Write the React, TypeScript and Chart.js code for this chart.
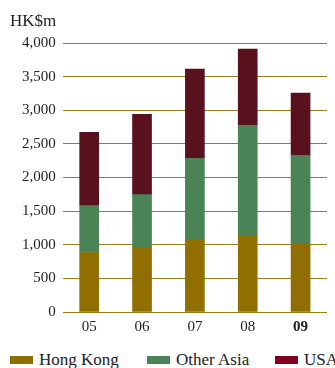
import React, { useEffect, useRef } from "react";
import { Chart, registerables } from "chart.js";

Chart.register(...registerables);

const categories = ["05", "06", "07", "08", "09"];
const hongKong = [885, 945, 1065, 1125, 1005];
const otherAsia = [697, 801, 1220, 1652, 1323];
const usa = [1090, 1194, 1328, 1134, 926];
const yTicks = [0, 500, 1000, 1500, 2000, 2500, 3000, 3500, 4000];
const unitLabel = "HK$m";

const seriesNames = ["Hong Kong", "Other Asia", "USA"];
const barColors = ["#916e00", "#4a8456", "#5a111e"];
const legendColors = ["#916e00", "#4a8456", "#800020"];

const FONT = "'Liberation Serif', 'Times New Roman', serif";

export default function App() {
  const ref = useRef<HTMLCanvasElement | null>(null);

  useEffect(() => {
    document.body.style.margin = "0";
    const canvas = ref.current;
    if (!canvas) return;
    const unitPlugin = {
      id: "unitLabel",
      afterDraw(chart: any) {
        const ctx = chart.ctx;
        ctx.save();
        ctx.font = `17px ${FONT}`;
        ctx.fillStyle = "#222";
        ctx.textAlign = "left";
        ctx.textBaseline = "middle";
        ctx.fillText(unitLabel, 10, 22);
        ctx.restore();
      },
    };
    const chart = new Chart(canvas, {
      type: "bar",
      data: {
        labels: categories,
        datasets: [hongKong, otherAsia, usa].map((d, i) => ({
          label: seriesNames[i],
          data: d,
          backgroundColor: barColors[i],
          borderWidth: 0,
          barThickness: 19,
        })),
      },
      options: {
        animation: false,
        responsive: false,
        maintainAspectRatio: false,
        layout: { padding: { top: 43, right: 8, left: 15, bottom: 0 } },
        plugins: {
          legend: { display: false },
          tooltip: { enabled: false },
        },
        scales: {
          x: {
            stacked: true,
            grid: { display: false, drawTicks: false },
            border: { display: false },
            ticks: {
              color: "#222",
              padding: 6,
              font: (c: any) => ({
                family: FONT,
                size: 15,
                weight: c.index === categories.length - 1 ? "bold" : "normal",
              }),
            },
          },
          y: {
            stacked: true,
            min: 0,
            max: 4000,
            afterBuildTicks: (axis: any) => {
              axis.ticks = yTicks.map((v) => ({ value: v }));
            },
            grid: { color: "#9c7d1c", lineWidth: 1, drawTicks: false },
            border: { display: false },
            ticks: {
              color: "#222",
              padding: 7,
              font: { family: FONT, size: 15 },
              callback: (v: any) => Number(v).toLocaleString("en-US"),
            },
          },
        },
      },
      plugins: [unitPlugin],
    });
    return () => chart.destroy();
  }, []);

  return (
    <div style={{ position: "relative", width: 335, height: 368, overflow: "hidden", background: "#fff" }}>
      <canvas ref={ref} width={335} height={342} style={{ display: "block" }} />
      <div
        style={{
          position: "absolute",
          top: 350,
          left: 0,
          width: 400,
          height: 20,
          fontFamily: FONT,
          fontSize: 17,
          color: "#222",
          whiteSpace: "nowrap",
        }}
      >
        {seriesNames.map((n, i) => (
          <span
            key={n}
            style={{ position: "absolute", left: [10, 147, 275][i], top: 0, display: "flex", alignItems: "center", height: 20 }}
          >
            <span style={{ display: "inline-block", width: 23, height: 8, background: legendColors[i], marginRight: 6 }} />
            {n}
          </span>
        ))}
      </div>
    </div>
  );
}
